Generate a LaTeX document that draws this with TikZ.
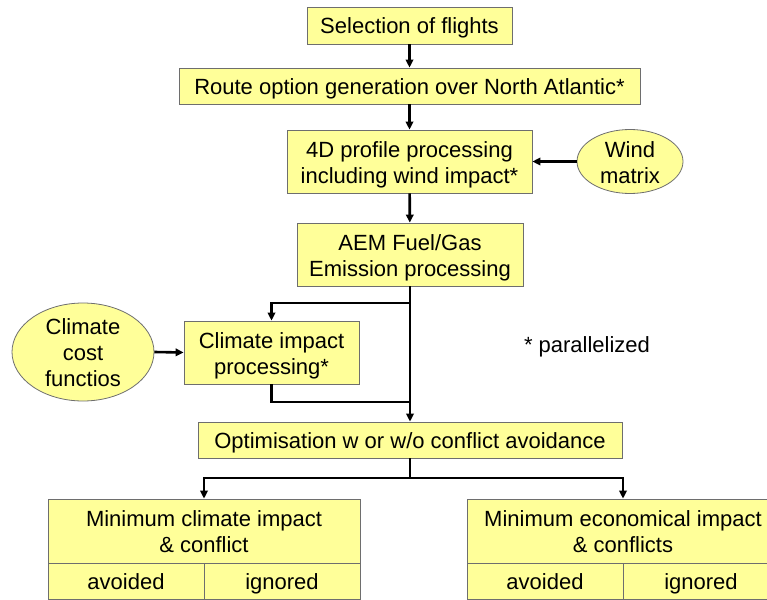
\documentclass[tikz,border=0pt]{standalone}
\usepackage{fontspec}
\setmainfont{Liberation Sans}
\usetikzlibrary{arrows.meta,shapes.geometric}
\definecolor{boxfill}{HTML}{FFFF99}
\definecolor{boxline}{HTML}{6E6E6E}
\newcommand{\tallfirst}{\rule{0pt}{22pt}}
\newcommand{\deeplast}{\rule[-5pt]{0pt}{5pt}}
\tikzset{
  evenlines/.style={execute at begin node={\tallfirst}, execute at end node={\deeplast}},
  procbox/.style={draw=boxline, fill=boxfill, line width=0.8pt, align=center, inner sep=0pt, evenlines},
  inputell/.style={ellipse, draw=boxline, fill=boxfill, line width=0.8pt, align=center, inner xsep=0pt, inner ysep=-6pt},
  flow/.style={line width=2.6pt, -{Triangle[length=8pt,width=7.5pt]}},
  flowline/.style={line width=2.6pt}
}
\begin{document}
\begin{tikzpicture}[x=1pt, y=-1pt, font=\fontsize{22}{26}\selectfont]
        \clip (0,0) rectangle (767,599);
        % --- Processing chain ---
        \node[procbox, minimum width=205, minimum height=37] (sel) at (409.5,25.5) {Selection of flights};
        \node[procbox, minimum width=461, minimum height=36] (route) at (409.5,86) {Route option generation over North Atlantic*};
        \node[procbox, minimum width=245, minimum height=63] (prof) at (409.5,161.5) {\tallfirst 4D profile processing\\including wind impact*\deeplast};
        \node[inputell, minimum width=106, minimum height=64] (wind) at (630,161.5) {\tallfirst Wind\\matrix\deeplast};
        \node[procbox, minimum width=226, minimum height=63] (aem) at (410,254.5) {\tallfirst AEM Fuel/Gas\\Emission processing\deeplast};
        \node[procbox, minimum width=175, minimum height=63] (clim) at (271.5,352.5) {\tallfirst Climate impact\\processing*\deeplast};
        \node[inputell, minimum width=142, minimum height=98] (ccf) at (83,352) {\tallfirst Climate\\cost\\functios\deeplast};
        \node[procbox, minimum width=424, minimum height=36] (opt) at (410,440) {Optimisation w or w/o conflict avoidance};
        \node[evenlines] (note) at (587,344) {* parallelized};
        % ---

        % --- Result tables ---
        \node[procbox, minimum width=312, minimum height=64] (climHead) at (204,531) {\tallfirst Minimum climate impact\\\& conflict\deeplast};
        \node[procbox, minimum width=156, minimum height=36] (climAvoid) at (126,581) {avoided};
        \node[procbox, minimum width=156, minimum height=36] (climIgnore) at (282,581) {ignored};
        \node[procbox, minimum width=312, minimum height=64] (econHead) at (623,531) {\tallfirst Minimum economical impact\\\& conflicts\deeplast};
        \node[procbox, minimum width=156, minimum height=36] (econAvoid) at (545,581) {avoided};
        \node[procbox, minimum width=156, minimum height=36] (econIgnore) at (701,581) {ignored};
        % ---

        % --- Connectors ---
        \coordinate (split) at (410,303);
        \coordinate (merge) at (410,402);
        \coordinate (fork) at (410,478);
        \draw[flow] (sel) -- (route);
        \draw[flow] (route) -- (prof);
        \draw[flow] (wind) -- (prof);
        \draw[flow] (prof) -- (aem);
        \draw[flowline] (aem.south) -- (split);
        \draw[flow] (split) -| (clim.north);
        \draw[flow] (split) -- (opt.north);
        \draw[flowline] (clim.south) |- (merge);
        \draw[flow] (ccf.east) -- (clim.west);
        \draw[flowline] (opt.south) -- (fork);
        \draw[flow] (fork) -| (climHead.north);
        \draw[flow] (fork) -| (econHead.north);
        % ---
    \end{tikzpicture}
\end{document}
